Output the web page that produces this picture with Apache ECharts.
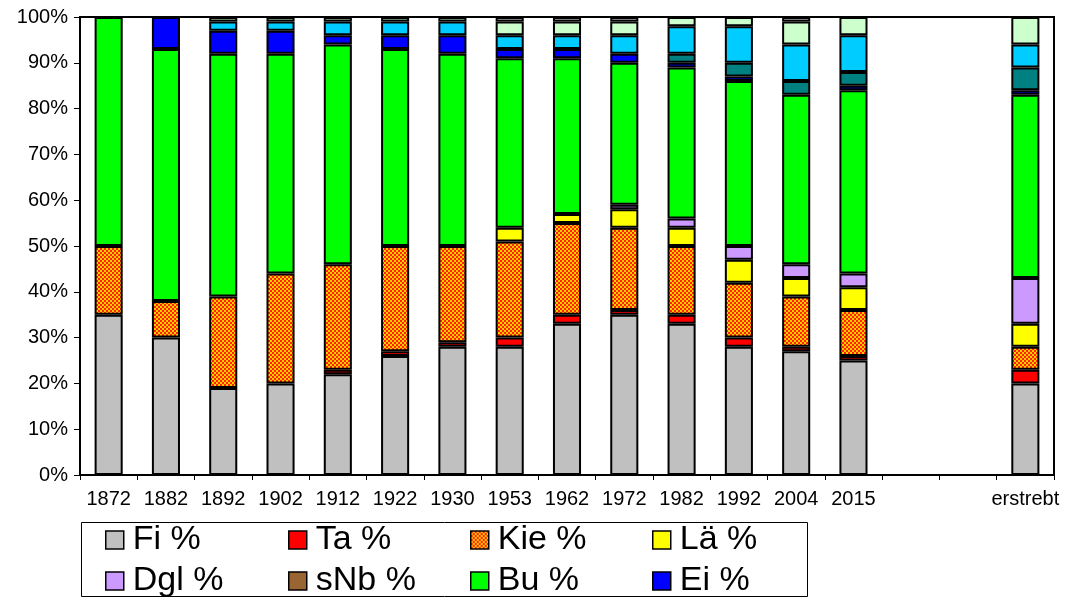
<!DOCTYPE html>
<html>
<head>
<meta charset="utf-8">
<script src="https://cdn.jsdelivr.net/npm/echarts@6/dist/echarts.min.js"></script>
<style>html,body{margin:0;padding:0;background:#fff}#c{width:1065px;height:597px}</style>
</head>
<body>
<div id="c"></div>
<script>
const categories = ['1872','1882','1892','1902','1912','1922','1930','1953','1962','1972','1982','1992','2004','2015',' ','  ','erstrebt'];
const fi   = [35,30,19,20,22,26,28,28,33,35,33,28,27,25,null,null,20];
const ta   = [0,0,0,0,1,1,1,2,2,1,2,2,1,1,null,null,3];
const kie  = [15,8,20,24,23,23,21,21,20,18,15,12,11,10,null,null,5];
const lae  = [0,0,0,0,0,0,0,3,2,4,4,5,4,5,null,null,5];
const dgl  = [0,0,0,0,0,0,0,0,0,1,2,3,3,3,null,null,10];
const snb  = [0,0,0,0,0,0,0,0,0,0,0,0,0,0,null,null,0];
const bu   = [50,55,53,48,48,43,42,37,34,31,33,36,37,40,null,null,40];
const ei   = [0,7,5,5,2,3,4,2,2,2,1,1,0,1,null,null,1];
const es   = [0,0,0,0,0,0,0,0,0,0,2,3,3,3,null,null,5];
const shlb = [0,0,2,2,3,3,3,3,3,4,6,8,8,8,null,null,5];
const swlb = [0,0,1,1,1,1,1,3,3,3,2,2,5,4,null,null,6];
const rest = [0,0,0,0,0,0,0,1,1,1,0,0,1,0,null,null,0];

const legendNames = ['Fi %','Ta %','Kie %','Lä %','Dgl %','sNb %','Bu %','Ei %'];

function makePattern(){
  const c = document.createElement('canvas');
  c.width = 4; c.height = 4;
  const g = c.getContext('2d');
  g.fillStyle = '#FFCC00'; g.fillRect(0,0,4,4);
  g.fillStyle = '#FF2200';
  g.fillRect(0,0,2,2); g.fillRect(2,2,2,2);
  return {image: c, repeat: 'repeat'};
}
const kiePattern = makePattern();

const seriesDefs = [
  ['Fi %', fi, '#C0C0C0'],
  ['Ta %', ta, '#FF0000'],
  ['Kie %', kie, kiePattern],
  ['Lä %', lae, '#FFFF00'],
  ['Dgl %', dgl, '#CC99FF'],
  ['sNb %', snb, '#996633'],
  ['Bu %', bu, '#00FF00'],
  ['Ei %', ei, '#0000FF'],
  ['Es %', es, '#008080'],
  ['sHlb %', shlb, '#00CCFF'],
  ['sWlb %', swlb, '#CCFFCC'],
  ['Blöße %', rest, '#FFFFFF']
];

const FONT = '"Liberation Sans", Arial, sans-serif';

const colX = [105, 288, 470, 652];
const rowY = [523, 564];
const legends = legendNames.map((n, i) => ({
  data: [n],
  left: colX[i % 4], top: rowY[Math.floor(i / 4)],
  padding: 0,
  itemWidth: 18, itemHeight: 18,
  icon: 'rect',
  itemStyle: {borderColor: '#000', borderWidth: 1.5},
  textStyle: {fontFamily: FONT, fontSize: 34, color: '#000', padding: [0,0,0,4]},
  selectedMode: false
}));

const chart = echarts.init(document.getElementById('c'), null, {renderer: 'canvas'});
chart.setOption({
  animation: false,
  backgroundColor: '#fff',
  grid: {left: 80, right: 11, top: 17, bottom: 122, show: true, borderColor: '#000', borderWidth: 2, backgroundColor: '#fff'},
  graphic: [{
    type: 'rect', left: 79, top: 520, z: 0,
    shape: {width: 726, height: 74},
    style: {fill: 'none', stroke: '#000', lineWidth: 1}
  }],
  legend: legends,
  xAxis: {
    type: 'category',
    data: categories,
    boundaryGap: true,
    axisLine: {lineStyle: {color: '#000', width: 2}},
    axisTick: {show: true, alignWithLabel: false, length: 5, lineStyle: {color: '#000'}},
    axisLabel: {fontFamily: FONT, fontSize: 20, color: '#000', margin: 14, interval: 0}
  },
  yAxis: {
    type: 'value', min: 0, max: 100, interval: 10,
    splitLine: {show: false},
    axisLine: {show: true, lineStyle: {color: '#000', width: 2}},
    axisTick: {show: true, length: 6, lineStyle: {color: '#000'}},
    axisLabel: {formatter: '{value}%', fontFamily: FONT, fontSize: 20, color: '#000', margin: 12}
  },
  series: seriesDefs.map(([name, data, color]) => ({
    name: name,
    type: 'bar',
    stack: 'total',
    data: data.map(v => (v === 0 ? null : v)),
    barWidth: '49%',
    itemStyle: {color: color, borderColor: '#000', borderWidth: 2},
    emphasis: {disabled: true}
  }))
});
</script>
</body>
</html>
